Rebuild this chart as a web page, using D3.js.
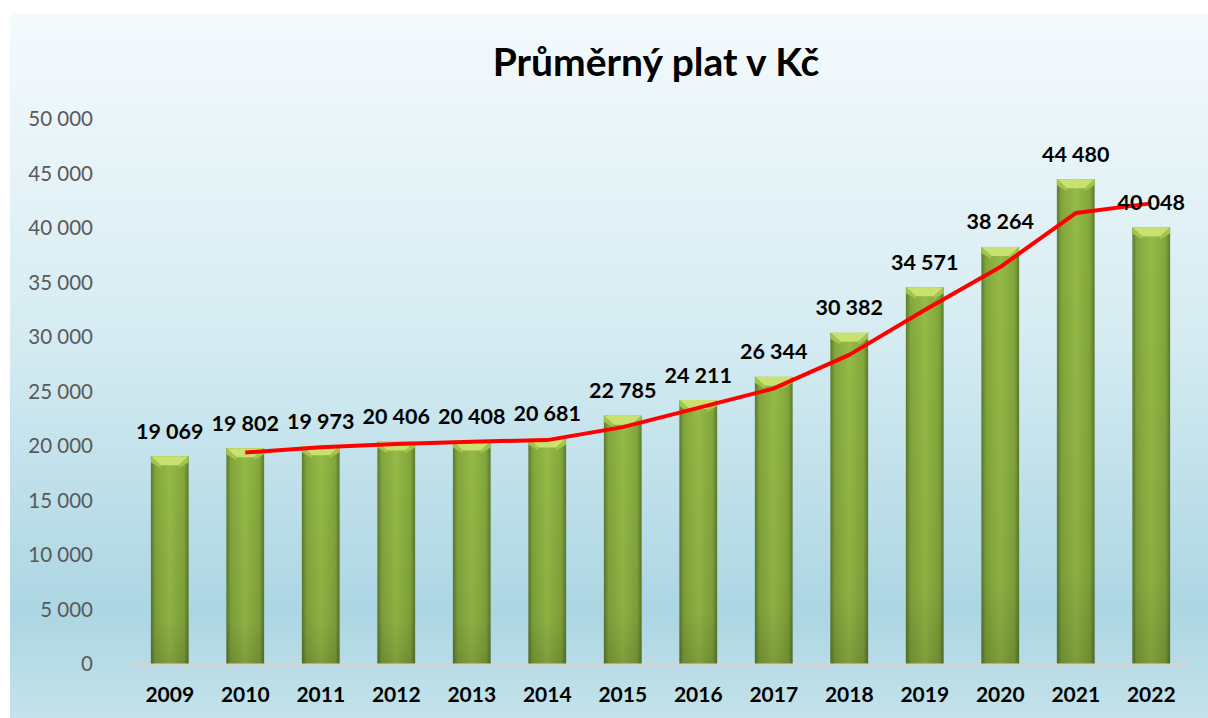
<!DOCTYPE html>
<meta charset="utf-8">
<body style="margin:0;background:#fff;">
<svg width="1208" height="718"></svg>
<script src="https://d3js.org/d3.v7.min.js"></script>
<script>

var years = ["2009","2010","2011","2012","2013","2014","2015","2016","2017","2018","2019","2020","2021","2022"];
var salary = [19069, 19802, 19973, 20406, 20408, 20681, 22785, 24211, 26344, 30382, 34571, 38264, 44480, 40048];
// red trend line (starts at 2010)
var trendYears = ["2010","2011","2012","2013","2014","2015","2016","2017","2018","2019","2020","2021","2022"];
var trendVals = [19400, 19880, 20190, 20400, 20540, 21730, 23500, 25280, 28360, 32480, 36420, 41370, 42260];
var yTicks = [0, 5000, 10000, 15000, 20000, 25000, 30000, 35000, 40000, 45000, 50000];
var title = "Průměrný plat v Kč";

var svg = d3.select("svg");
var font = "Lato, 'Open Sans', sans-serif";

var defs = svg.append("defs");
var bg = defs.append("linearGradient").attr("id", "bg")
  .attr("x1", 0).attr("y1", 0).attr("x2", 0).attr("y2", 1);
bg.append("stop").attr("offset", "0%").attr("stop-color", "#f5fafd");
bg.append("stop").attr("offset", "45%").attr("stop-color", "#d6ecf2");
bg.append("stop").attr("offset", "85%").attr("stop-color", "#acd6e3");
bg.append("stop").attr("offset", "100%").attr("stop-color", "#c4e3ea");

var barGrad = defs.append("linearGradient").attr("id", "barg")
  .attr("x1", 0).attr("y1", 0).attr("x2", 1).attr("y2", 0);
barGrad.append("stop").attr("offset", "0%").attr("stop-color", "#5a7a2c");
barGrad.append("stop").attr("offset", "12%").attr("stop-color", "#82a63c");
barGrad.append("stop").attr("offset", "50%").attr("stop-color", "#96bb47");
barGrad.append("stop").attr("offset", "88%").attr("stop-color", "#82a63c");
barGrad.append("stop").attr("offset", "100%").attr("stop-color", "#5a7a2c");

var barV = defs.append("linearGradient").attr("id", "barv")
  .attr("x1", 0).attr("y1", 0).attr("x2", 0).attr("y2", 1);
barV.append("stop").attr("offset", "0%").attr("stop-color", "#000").attr("stop-opacity", 0);
barV.append("stop").attr("offset", "80%").attr("stop-color", "#000").attr("stop-opacity", 0.06);
barV.append("stop").attr("offset", "100%").attr("stop-color", "#000").attr("stop-opacity", 0.16);

svg.append("rect").attr("x", 10).attr("y", 13).attr("width", 1198).attr("height", 705)
  .attr("fill", "url(#bg)");

var margin = {left: 132, right: 1189, top: 119, bottom: 664};

var x = d3.scaleBand().domain(years).range([margin.left, margin.right]).paddingInner(0.5).paddingOuter(0.25);
var y = d3.scaleLinear().domain([0, 50000]).range([margin.bottom, margin.top]);

// y axis labels
var fmt = function(v) { return d3.format(",")(v).replace(/,/g, " "); };
svg.append("g").selectAll("text").data(yTicks).enter().append("text")
  .attr("x", 93).attr("y", function(d) { return y(d); })
  .attr("dy", "0.35em")
  .attr("text-anchor", "end")
  .style("font-family", font).style("font-size", "20.5px").attr("fill", "#595959")
  .text(fmt);

// bars
var bars = svg.append("g").selectAll("g").data(salary).enter().append("g")
  .attr("transform", function(d, i) { return "translate(" + x(years[i]) + ",0)"; });
var bw = x.bandwidth();
bars.append("rect")
  .attr("x", 0).attr("y", function(d) { return y(d); })
  .attr("width", bw).attr("height", function(d) { return y(0) - y(d); })
  .attr("fill", "url(#barg)");
bars.append("rect")
  .attr("x", 0).attr("y", function(d) { return y(d); })
  .attr("width", bw).attr("height", function(d) { return y(0) - y(d); })
  .attr("fill", "url(#barv)");
bars.append("path")
  .attr("d", function(d) {
    var t = y(d);
    return "M0," + t + "L" + bw + "," + t + "L" + (bw - 10) + "," + (t + 9) + "L10," + (t + 9) + "Z";
  })
  .attr("fill", "#c8e270");
bars.append("path")
  .attr("d", function(d) {
    var t = y(d);
    return "M0," + t + "L10," + (t + 9) + "L10," + (t + 12) + "L0," + (t + 6) + "Z";
  })
  .attr("fill", "#a3c44e");
bars.append("path")
  .attr("d", function(d) {
    var t = y(d);
    return "M" + bw + "," + t + "L" + (bw - 10) + "," + (t + 9) + "L" + (bw - 10) + "," + (t + 12) + "L" + bw + "," + (t + 6) + "Z";
  })
  .attr("fill", "#a3c44e");

// x axis line
svg.append("line")
  .attr("x1", margin.left).attr("x2", margin.right + 1)
  .attr("y1", y(0) + 1).attr("y2", y(0) + 1)
  .attr("stroke", "#d4d4d4").attr("stroke-width", 3);

// year labels
svg.append("g").selectAll("text").data(years).enter().append("text")
  .attr("x", function(d) { return x(d) + bw / 2; })
  .attr("y", 695)
  .attr("dy", "0.35em")
  .attr("text-anchor", "middle")
  .style("font-family", font).style("font-size", "21px").style("font-weight", "bold")
  .attr("fill", "#000")
  .text(function(d) { return d; });

// trend line
var line = d3.line()
  .x(function(d, i) { return x(trendYears[i]) + bw / 2; })
  .y(function(d) { return y(d); });
svg.append("path").datum(trendVals)
  .attr("d", line)
  .attr("fill", "none").attr("stroke", "#ff0000").attr("stroke-width", 4)
  .attr("stroke-linejoin", "round");

// value labels
svg.append("g").selectAll("text").data(salary).enter().append("text")
  .attr("x", function(d, i) { return x(years[i]) + bw / 2; })
  .attr("y", function(d) { return y(d) - 25; })
  .attr("dy", "0.35em")
  .attr("text-anchor", "middle")
  .style("font-family", font).style("font-size", "21.5px").style("font-weight", "bold")
  .attr("fill", "#000")
  .text(fmt);

// title
svg.append("text")
  .attr("x", 656).attr("y", 62).attr("dy", "0.35em")
  .attr("text-anchor", "middle")
  .style("font-family", font).style("font-size", "39px").style("font-weight", "bold")
  .attr("fill", "#000")
  .text(title);

</script>
</body>
